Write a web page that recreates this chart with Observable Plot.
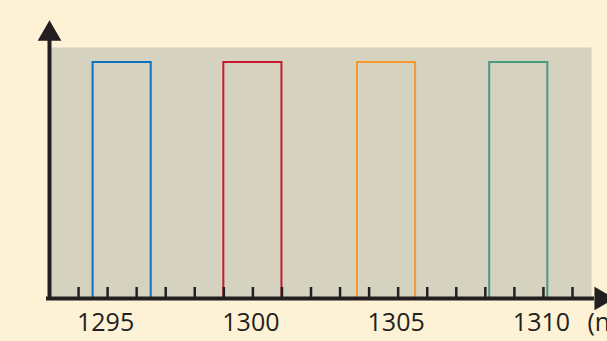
<!DOCTYPE html>
<html><head><meta charset="utf-8">
<script src="https://cdn.jsdelivr.net/npm/d3@7"></script>
<script src="https://cdn.jsdelivr.net/npm/@observablehq/plot@0.6"></script>
<style>html,body{margin:0;padding:0;background:#fdf2d5;overflow:hidden}</style>
</head><body><div id="chart"></div>
<script>
// Data: four wavelength bands (nm)
const bandNames = ["blue", "red", "orange", "green"];
const bandStart = [1294.5, 1299.0, 1303.6, 1308.15];
const bandEnd = [1296.5, 1301.0, 1305.6, 1310.15];
const bandHeight = [1, 1, 1, 1];
const bandColors = ["#0b72bd", "#c8182c", "#f6982c", "#4b9a80"];
const tickValues = [1294, 1295, 1296, 1297, 1298, 1299, 1300, 1301, 1302, 1303, 1304, 1305, 1306, 1307, 1308, 1309, 1310, 1311];
const tickLabels = [1295, 1300, 1305, 1310];
const unitLabel = "(nm)";
const axisOrigin = 1293;

const bands = bandNames.map((name, i) => ({name, x1: bandStart[i], x2: bandEnd[i], h: bandHeight[i], color: bandColors[i]}));
const ink = "#231f20";
const font = "'Open Sans', sans-serif";

const chart = Plot.plot({
  width: 607,
  height: 341,
  marginLeft: 49,
  marginRight: 16,
  marginTop: 47,
  marginBottom: 43,
  style: {background: "#fdf2d5", fontFamily: font, overflow: "visible"},
  x: {domain: [axisOrigin, 1311], range: [49, 572], axis: null},
  y: {domain: [0, 1], range: [298, 62], axis: null},
  marks: [
    Plot.frame({fill: "#d5d2c0", stroke: "none"}),
    Plot.rect(bands, {x1: "x1", x2: "x2", y1: 0, y2: "h", fill: "none", stroke: d => d.color, strokeWidth: 2}),
    Plot.ruleX(tickValues, {x: d => d, y1: 0, y2: 0, insetTop: -11, stroke: ink, strokeWidth: 2.5}),
    Plot.ruleY([0], {stroke: ink, strokeWidth: 4, insetLeft: -3, insetRight: -3}),
    Plot.ruleX([axisOrigin], {stroke: ink, strokeWidth: 4, insetTop: -7, insetBottom: -2}),
    Plot.dot([axisOrigin], {x: d => d, frameAnchor: "top", dy: -13.5, symbol: "triangle", r: 8.8, fill: ink, stroke: "none"}),
    Plot.dot([0], {y: d => d, frameAnchor: "right", dx: 9.8, symbol: "triangle", r: 8.8, rotate: 90, fill: ink, stroke: "none"}),
    Plot.text(tickLabels, {x: d => d, y: 0, dy: 32, dx: -2, lineAnchor: "bottom", text: d => String(d), fontSize: 25, fill: ink, fontFamily: font}),
    Plot.text([unitLabel], {x: 1311, y: 0, dy: 32, dx: 15, lineAnchor: "bottom", textAnchor: "start", text: d => d, fontSize: 25, fill: ink, fontFamily: font})
  ]
});
document.getElementById("chart").appendChild(chart);
</script>
</body></html>
